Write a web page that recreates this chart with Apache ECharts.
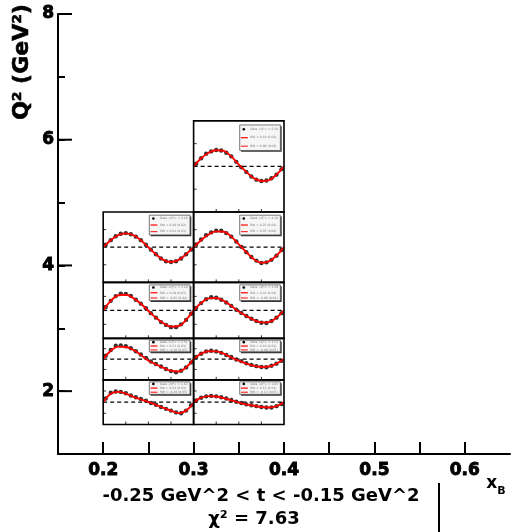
<!DOCTYPE html>
<html><head><meta charset="utf-8">
<script src="https://cdn.jsdelivr.net/npm/echarts@6/dist/echarts.min.js"></script>
<style>html,body{margin:0;padding:0;background:#fff}#c{width:511px;height:532px}</style>
</head><body><div id="c"></div>
<script>
// ---- main axes ----
const xTickValues = [0.2, 0.3, 0.4, 0.5, 0.6];
const xTickLabels = ['0.2', '0.3', '0.4', '0.5', '0.6'];
const yTickValues = [2, 4, 6, 8];
const yTickLabels = ['2', '4', '6', '8'];
const yMajorTicks = [2, 4, 6, 8];

// ---- panels (xB bin, Q2 bin) ----
const panelXlo = [0.3, 0.2, 0.3, 0.2, 0.3, 0.2, 0.3, 0.2, 0.3];
const panelXhi = [0.4, 0.3, 0.4, 0.3, 0.4, 0.3, 0.4, 0.3, 0.4];
const panelQlo = [4.85, 3.73, 3.73, 2.84, 2.84, 2.18, 2.18, 1.47, 1.47];
const panelQhi = [6.30, 4.85, 4.85, 3.73, 3.73, 2.84, 2.84, 2.18, 2.18];
const asymHalfRange = 0.5;          // panel vertical half-range in asymmetry units
const panelTicksA = [-0.25, 0.25];
const panelTicksPhi = [90, 180, 270];
const legendRow1 = ['Data <Q²> = 5.58', 'Data <Q²> = 4.29', 'Data <Q²> = 4.29', 'Data <Q²> = 3.29', 'Data <Q²> = 3.29', 'Data <Q²> = 2.51', 'Data <Q²> = 2.51', 'Data <Q²> = 1.83', 'Data <Q²> = 1.83'];
const legendRow2 = ['fitA = 0.18 (0.02)', 'fitA = 0.20 (0.02)', 'fitA = 0.23 (0.02)', 'fitA = 0.29 (0.03)', 'fitA = 0.22 (0.02)', 'fitA = 0.31 (0.03)', 'fitA = 0.19 (0.02)', 'fitA = 0.24 (0.03)', 'fitA = 0.13 (0.02)'];
const legendRow3 = ['fitB = 0.06 (0.04)', 'fitB = 0.01 (0.03)', 'fitB = 0.07 (0.04)', 'fitB = -0.05 (0.04)', 'fitB = -0.06 (0.04)', 'fitB = -0.10 (0.05)', 'fitB = -0.09 (0.05)', 'fitB = -0.20 (0.05)', 'fitB = -0.12 (0.05)'];

// fit curves, sampled in phi (deg)
const phiFit = [0, 30, 60, 90, 120, 150, 180, 210, 240, 270, 300, 330, 360];
const fit1 = [0, 0.09, 0.15, 0.178, 0.17, 0.11, 0.02, -0.06, -0.13, -0.16, -0.15, -0.09, 0];
const fit2 = [0, 0.10, 0.17, 0.197, 0.17, 0.10, 0, -0.10, -0.18, -0.21, -0.18, -0.10, 0];
const fit3 = [0, 0.10, 0.18, 0.225, 0.22, 0.15, 0.04, -0.07, -0.17, -0.22, -0.20, -0.12, 0];
const fit4 = [0, 0.17, 0.27, 0.28, 0.22, 0.12, -0.01, -0.13, -0.23, -0.29, -0.28, -0.17, 0];
const fit5 = [0, 0.13, 0.215, 0.22, 0.17, 0.08, -0.02, -0.10, -0.17, -0.215, -0.21, -0.13, 0];
const fit6 = [0, 0.20, 0.30, 0.29, 0.22, 0.10, -0.04, -0.13, -0.21, -0.28, -0.30, -0.20, 0];
const fit7 = [0, 0.13, 0.19, 0.185, 0.13, 0.04, -0.04, -0.11, -0.16, -0.19, -0.18, -0.11, 0];
const fit8 = [0, 0.19, 0.23, 0.19, 0.12, 0.06, 0.005, -0.06, -0.13, -0.19, -0.245, -0.19, -0.02];
const fit9 = [0, 0.10, 0.135, 0.125, 0.09, 0.04, -0.01, -0.05, -0.08, -0.11, -0.12, -0.09, 0];

// data points, phi bin centres (deg)
const phiData = [10, 30, 50, 70, 90, 110, 130, 150, 170, 190, 210, 230, 250, 270, 290, 310, 330, 350];
const data1 = [0.03, 0.09, 0.14, 0.165, 0.18, 0.175, 0.15, 0.11, 0.05, -0.01, -0.06, -0.11, -0.145, -0.16, -0.155, -0.13, -0.09, -0.03];
const data2 = [0.035, 0.10, 0.155, 0.19, 0.20, 0.185, 0.15, 0.10, 0.035, -0.035, -0.10, -0.16, -0.20, -0.21, -0.20, -0.16, -0.10, -0.035];
const data3 = [0.04, 0.11, 0.17, 0.21, 0.235, 0.235, 0.20, 0.15, 0.08, 0.005, -0.07, -0.14, -0.19, -0.225, -0.215, -0.18, -0.12, -0.04];
const data4 = [0.06, 0.17, 0.255, 0.30, 0.295, 0.26, 0.19, 0.12, 0.04, -0.05, -0.13, -0.21, -0.26, -0.30, -0.30, -0.25, -0.17, -0.06];
const data5 = [0.045, 0.13, 0.20, 0.235, 0.225, 0.19, 0.14, 0.08, 0.01, -0.045, -0.10, -0.15, -0.19, -0.22, -0.225, -0.19, -0.13, -0.05];
const data6 = [0.08, 0.22, 0.32, 0.33, 0.31, 0.26, 0.19, 0.11, 0.03, -0.06, -0.12, -0.18, -0.24, -0.29, -0.32, -0.28, -0.20, -0.08];
const data7 = [0.05, 0.13, 0.185, 0.20, 0.185, 0.15, 0.10, 0.05, -0.01, -0.05, -0.10, -0.14, -0.17, -0.19, -0.195, -0.16, -0.11, -0.04];
const data8 = [0.08, 0.21, 0.24, 0.23, 0.20, 0.15, 0.11, 0.07, 0.03, -0.02, -0.06, -0.11, -0.15, -0.19, -0.23, -0.25, -0.19, -0.07];
const data9 = [0.04, 0.10, 0.13, 0.14, 0.13, 0.11, 0.08, 0.05, 0.01, -0.02, -0.05, -0.07, -0.09, -0.11, -0.12, -0.12, -0.09, -0.04];

const fits = [fit1, fit2, fit3, fit4, fit5, fit6, fit7, fit8, fit9];
const dataPts = [data1, data2, data3, data4, data5, data6, data7, data8, data9];

// map (phi, asymmetry) inside a panel to main (xB, Q2) coordinates
function toMain(i, phi, a) {
  const qmid = (panelQlo[i] + panelQhi[i]) / 2;
  return [panelXlo[i] + phi / 360 * (panelXhi[i] - panelXlo[i]),
          qmid + a / asymHalfRange * (panelQhi[i] - panelQlo[i]) / 2];
}

const FONT = 'DejaVu Sans';
const series = [];

fits.forEach((f, i) => {
  series.push({
    type: 'line', z: 2, silent: true, symbol: 'none',
    data: [toMain(i, 0, 0), toMain(i, 360, 0)],
    lineStyle: { color: '#000', width: 1.3, type: [4, 3] }
  });
  series.push({
    type: 'scatter', z: 3, silent: true, symbol: 'circle', symbolSize: 4.4,
    itemStyle: { color: '#000' },
    data: phiData.map((p, k) => toMain(i, p, dataPts[i][k]))
  });
  series.push({
    type: 'line', z: 4, silent: true, symbol: 'none', smooth: 0.4,
    data: phiFit.map((p, k) => toMain(i, p, f[k])),
    lineStyle: { color: '#ff0000', width: 1.9 }
  });
});

function renderPanel(params, api) {
  const i = api.value(0);
  const tl = api.coord([panelXlo[i], panelQhi[i]]);
  const br = api.coord([panelXhi[i], panelQlo[i]]);
  const x0 = tl[0], y0 = tl[1], w = br[0] - tl[0], h = br[1] - tl[1];
  const ch = [];
  panelTicksA.forEach(a => {
    const yy = api.coord(toMain(i, 0, a))[1];
    ch.push({ type: 'line', shape: { x1: x0, y1: yy, x2: x0 + 3, y2: yy }, style: { stroke: '#333', lineWidth: 1 } });
  });
  panelTicksPhi.forEach(p => {
    const xx = api.coord(toMain(i, p, 0))[0];
    ch.push({ type: 'line', shape: { x1: xx, y1: y0 + h, x2: xx, y2: y0 + h - 3 }, style: { stroke: '#333', lineWidth: 1 } });
  });
  const lx = x0 + 0.51 * w, ly = y0 + 0.045 * h, lw = 0.45 * w, lh = 0.28 * h;
  ch.push({ type: 'rect', shape: { x: lx + 1.3, y: ly + 1.3, width: lw, height: lh }, style: { fill: '#333' } });
  ch.push({ type: 'rect', shape: { x: lx, y: ly, width: lw, height: lh }, style: { fill: '#f6f6f6', stroke: '#555', lineWidth: 0.8 } });
  const texts = [legendRow1[i], legendRow2[i], legendRow3[i]];
  for (let r = 0; r < 3; r++) {
    const ry = ly + lh * (r + 0.5) / 3;
    if (r === 0) {
      ch.push({ type: 'circle', shape: { cx: lx + 0.1 * lw, cy: ry, r: 1.3 }, style: { fill: '#000' } });
    } else {
      ch.push({ type: 'line', shape: { x1: lx + 0.03 * lw, y1: ry, x2: lx + 0.2 * lw, y2: ry }, style: { stroke: r === 1 ? '#ff0000' : '#ff3030', lineWidth: 1.2 } });
    }
    ch.push({ type: 'text', x: lx + 0.26 * lw, y: ry, style: { text: texts[r], fontSize: 3, fontFamily: FONT, fill: '#777', verticalAlign: 'middle', align: 'left' } });
  }
  ch.push({ type: 'rect', shape: { x: x0, y: y0, width: w, height: h }, style: { fill: 'transparent', stroke: '#000', lineWidth: 1.6 } });
  return { type: 'group', children: ch };
}

series.push({
  type: 'custom', z: 6, silent: true, clip: false,
  renderItem: renderPanel,
  encode: { x: 1, y: 2 },
  data: panelXlo.map((x, i) => [i, x, panelQlo[i]])
});

series.push({
  type: 'custom', z: 7, silent: true, clip: false,
  encode: { x: 0, y: 1 },
  renderItem: function (params, api) {
    const p = api.coord([api.value(0), api.value(1)]);
    return { type: 'line', shape: { x1: p[0], y1: p[1], x2: p[0] + 14, y2: p[1] }, style: { stroke: '#000', lineWidth: 2 } };
  },
  data: yMajorTicks.map(v => [0.15, v])
});

function labelFor(values, labels) {
  return function (v) {
    for (let k = 0; k < values.length; k++) if (Math.abs(v - values[k]) < 1e-6) return labels[k];
    return '';
  };
}

const heavy = { color: '#000', fontFamily: FONT, fontWeight: 'bold', fontSize: 17, textBorderColor: '#000', textBorderWidth: 0.9 };

const option = {
  animation: false,
  backgroundColor: '#fff',
  grid: { left: 58, right: 1, top: 14, bottom: 78 },
  xAxis: {
    type: 'value', min: 0.15, max: 0.65, interval: 0.05,
    splitLine: { show: false },
    axisLine: { onZero: false, lineStyle: { color: '#000', width: 2 } },
    axisTick: { inside: true, length: 12, lineStyle: { color: '#000', width: 2 } },
    axisLabel: Object.assign({ formatter: labelFor(xTickValues, xTickLabels), margin: 8, showMinLabel: false, showMaxLabel: false }, heavy)
  },
  yAxis: {
    type: 'value', min: 1, max: 8, interval: 1,
    splitLine: { show: false },
    axisLine: { onZero: false, lineStyle: { color: '#000', width: 2 } },
    axisTick: { inside: true, length: 7, lineStyle: { color: '#000', width: 2 } },
    axisLabel: Object.assign({ formatter: labelFor(yTickValues, yTickLabels), margin: 4, showMaxLabel: true }, heavy)
  },
  graphic: [
    { type: 'text', x: 22, y: 62, rotation: Math.PI / 2, style: { text: 'Q² (GeV²)', fontFamily: FONT, fontWeight: 'bold', fontSize: 22, fill: '#000', stroke: '#000', lineWidth: 0.6, align: 'center', verticalAlign: 'middle' } },
    { type: 'text', x: 261, y: 496, style: { text: '-0.25 GeV^2 < t < -0.15 GeV^2', fontFamily: FONT, fontWeight: 'bold', fontSize: 18, fill: '#000', align: 'center', verticalAlign: 'middle' } },
    { type: 'text', x: 254, y: 519, style: { text: 'χ² = 7.63', fontFamily: FONT, fontWeight: 'bold', fontSize: 18, fill: '#000', align: 'center', verticalAlign: 'middle' } },
    { type: 'text', x: 496, y: 486, style: { text: '{m|x}{s|B}', align: 'center', verticalAlign: 'middle', rich: { m: { fontFamily: FONT, fontWeight: 'bold', fontSize: 17, fill: '#000', verticalAlign: 'top', lineHeight: 22 }, s: { fontFamily: FONT, fontWeight: 'bold', fontSize: 11, fill: '#000', verticalAlign: 'bottom', lineHeight: 22 } } } },
    { type: 'line', shape: { x1: 439, y1: 483, x2: 439, y2: 532 }, style: { stroke: '#000', lineWidth: 2 } }
  ],
  series: series
};

const chart = echarts.init(document.getElementById('c'), null, { renderer: 'canvas' });
chart.setOption(option);
</script>
</body></html>
